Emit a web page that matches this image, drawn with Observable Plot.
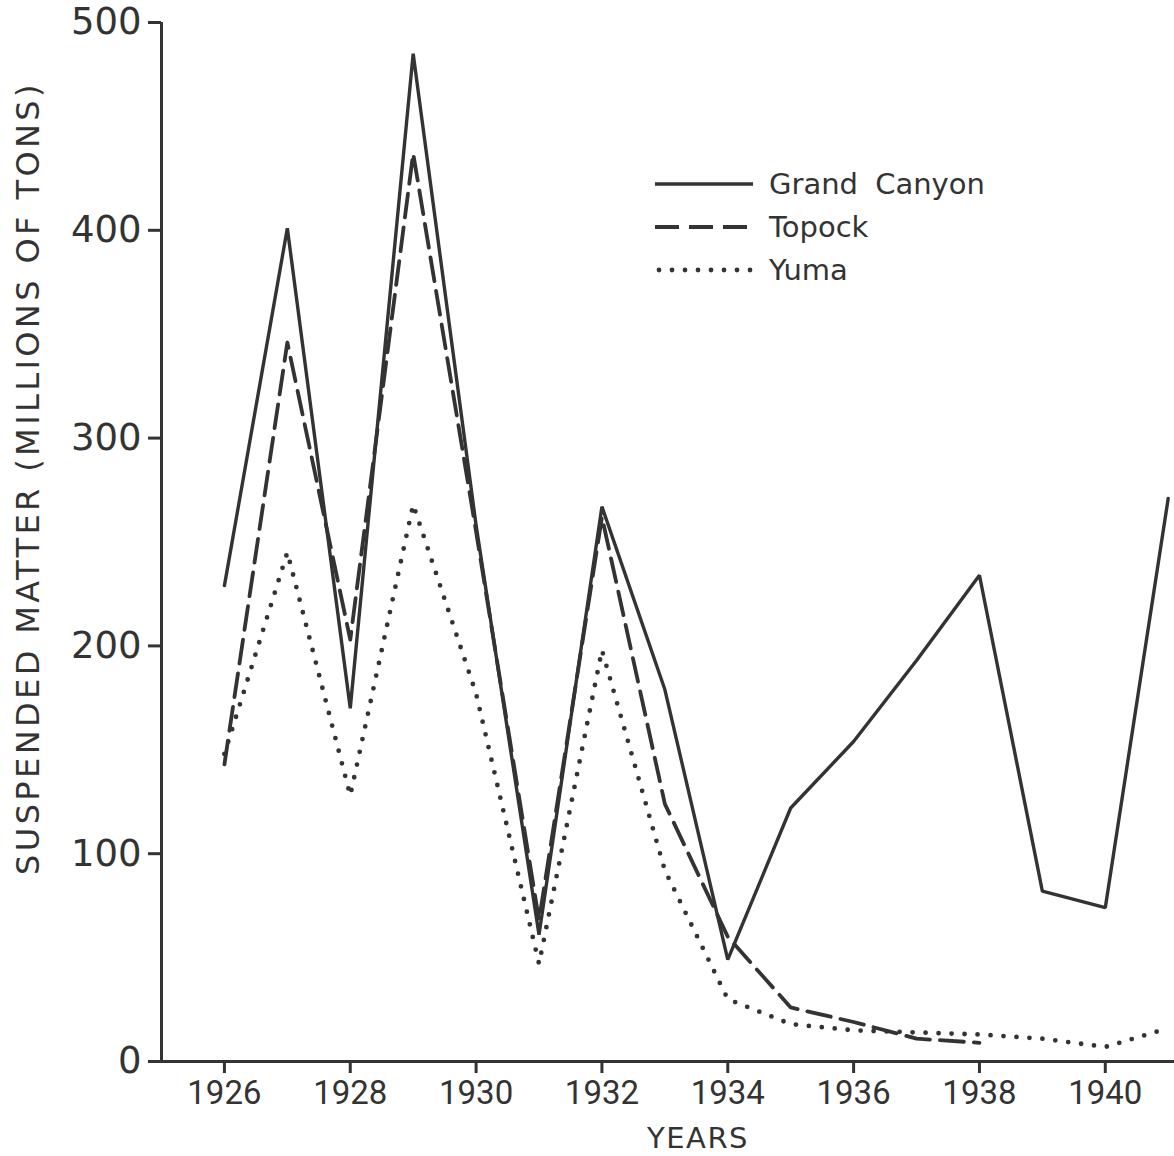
<!DOCTYPE html>
<html>
<head>
<meta charset="utf-8">
<script src="https://cdn.jsdelivr.net/npm/d3@7"></script>
<script src="https://cdn.jsdelivr.net/npm/@observablehq/plot@0.6"></script>
<style>
  html, body { margin: 0; padding: 0; background: #ffffff; }
  #wrap { position: relative; width: 1174px; height: 1156px; overflow: hidden; background: #ffffff; font-family: "DejaVu Sans", sans-serif; color: #333; }
  #ytitle { position: absolute; left: 28px; top: 478px; transform: translate(-50%, -50%) rotate(-90deg); white-space: nowrap; font-size: 32px; letter-spacing: 3.4px; color: #333; line-height: 1; }
  #xtitle { position: absolute; left: 698px; top: 1138px; transform: translate(-50%, -50%); white-space: nowrap; font-size: 29px; letter-spacing: 1.5px; color: #333; line-height: 1; }
  #legend { position: absolute; left: 655px; top: 162px; }
  .row { display: flex; align-items: center; height: 43px; }
  .row svg { width: 100px; height: 20px; margin-right: 14px; }
  .row span { font-size: 29px; color: #333; word-spacing: 8px; }
</style>
</head>
<body>
<div id="wrap">
  <div id="chart"></div>
  <div id="ytitle">SUSPENDED MATTER (MILLIONS OF TONS)</div>
  <div id="xtitle">YEARS</div>
  <div id="legend"></div>
</div>
<script>
// Data
const years = [1926, 1927, 1928, 1929, 1930, 1931, 1932, 1933, 1934, 1935, 1936, 1937, 1938, 1939, 1940, 1941];
const grandCanyon = [229, 401, 170, 485, 258, 61, 267, 179, 49, 122, 154, 193, 234, 82, 74, 271];
const topockYears = [1926, 1927, 1928, 1929, 1930, 1931, 1932, 1933, 1934, 1935, 1936, 1937, 1938];
const topock = [143, 346, 203, 437, 255, 68, 262, 124, 60, 26, 19, 11, 9];
const yuma = [148, 245, 128, 268, 177, 47, 198, 92, 30, 18, 15, 14, 13, 11, 7, 16];
const xTicks = [1926, 1928, 1930, 1932, 1934, 1936, 1938, 1940];
const yTicks = [0, 100, 200, 300, 400, 500];
const seriesNames = ["Grand Canyon", "Topock", "Yuma"];

const ink = "#333";
const gcData = years.map((y, i) => ({year: y, value: grandCanyon[i]}));
const tpData = topockYears.map((y, i) => ({year: y, value: topock[i]}));
const yuData = years.map((y, i) => ({year: y, value: yuma[i]}));

const styles = [
  {strokeWidth: 3.4, strokeDasharray: null},
  {strokeWidth: 3.8, strokeDasharray: "24,10"},
  {strokeWidth: 4.8, strokeDasharray: "0,13"}
];

const chart = Plot.plot({
  width: 1174,
  height: 1156,
  marginLeft: 161,
  marginRight: 0,
  marginTop: 22,
  marginBottom: 95,
  style: {background: "transparent", fontFamily: "DejaVu Sans, sans-serif", color: ink},
  x: {domain: [1925, 1941.1]},
  y: {domain: [0, 500]},
  marks: [
    Plot.axisY({ticks: yTicks, tickSize: 13, tickPadding: 7, fontSize: 37, stroke: ink, strokeWidth: 3, fill: ink, label: null}),
    Plot.axisX({ticks: xTicks, tickSize: 12, tickPadding: 7, fontSize: 33, stroke: ink, strokeWidth: 3, fill: ink, tickFormat: d => String(d), label: null, fontFamily: "Roboto, sans-serif"}),
    Plot.ruleX([1925], {y1: 0, y2: 500, stroke: ink, strokeWidth: 3}),
    Plot.ruleY([0], {stroke: ink, strokeWidth: 3}),
    Plot.line(gcData, {x: "year", y: "value", stroke: ink, strokeWidth: styles[0].strokeWidth, strokeLinejoin: "miter"}),
    Plot.line(tpData, {x: "year", y: "value", stroke: ink, strokeWidth: styles[1].strokeWidth, strokeDasharray: styles[1].strokeDasharray}),
    Plot.line(yuData, {x: "year", y: "value", stroke: ink, strokeWidth: styles[2].strokeWidth, strokeDasharray: styles[2].strokeDasharray, strokeLinecap: "round"})
  ]
});
document.getElementById("chart").appendChild(chart);

// Legend
const legend = document.getElementById("legend");
seriesNames.forEach((name, i) => {
  const row = document.createElement("div");
  row.className = "row";
  const s = styles[i];
  const dash = s.strokeDasharray ? `stroke-dasharray="${s.strokeDasharray}"` : "";
  const cap = i === 2 ? `stroke-linecap="round"` : "";
  row.innerHTML = `<svg viewBox="0 0 100 20"><line x1="${i === 2 ? 4 : 0}" y1="10" x2="${i === 2 ? 96 : 98}" y2="10" stroke="${ink}" stroke-width="${s.strokeWidth}" ${dash} ${cap}/></svg><span>${name}</span>`;
  legend.appendChild(row);
});
</script>
</body>
</html>
